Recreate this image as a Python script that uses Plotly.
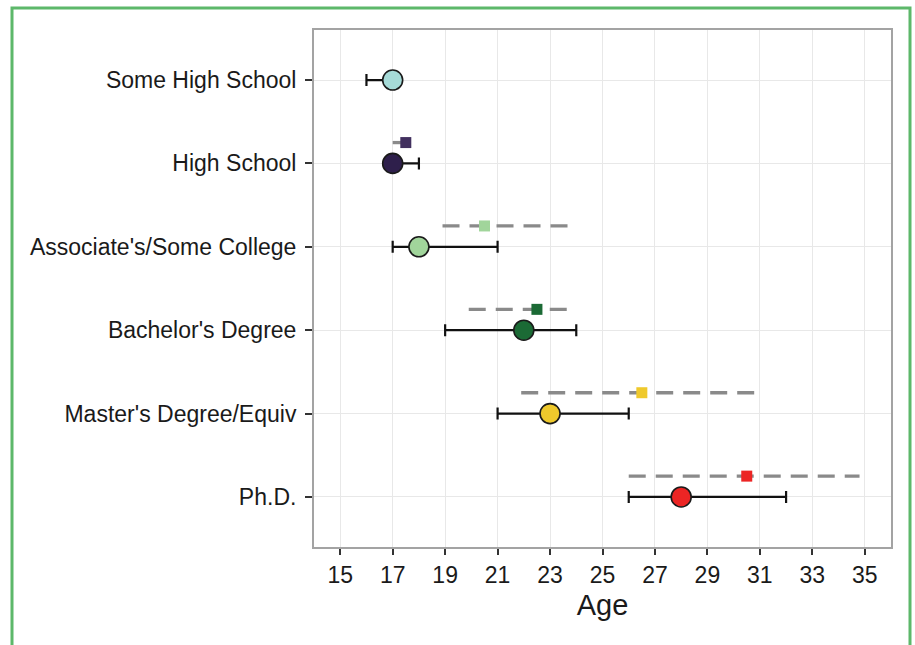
import plotly.graph_objects as go

categories = ["Some High School", "High School", "Associate's/Some College",
              "Bachelor's Degree", "Master's Degree/Equiv", "Ph.D."]
point_age = [17, 17, 18, 22, 23, 28]
ci_low = [16, 17, 17, 19, 21, 26]
ci_high = [17, 18, 21, 24, 26, 32]
alt_age = [None, 17.5, 20.5, 22.5, 26.5, 30.5]
alt_low = [None, 17.0, 18.9, 19.9, 21.9, 26.0]
alt_high = [None, 17.5, 23.7, 23.7, 30.8, 34.8]
circle_colors = ["#a6dbd8", "#2e1f4b", "#a1d59b", "#1b6a35", "#efc92c", "#ec2524"]
square_colors = ["#a6dbd8", "#42305f", "#a1d59b", "#1b6a35", "#efc92c", "#ec2524"]
x_ticks = list(range(15, 36, 2))

rows = list(range(len(categories)))
OFFSET = 0.25

fig = go.Figure()

# dashed ranges with squares
for i in rows:
    if alt_age[i] is None:
        continue
    fig.add_trace(go.Scatter(
        x=[alt_low[i], alt_high[i]], y=[i - OFFSET, i - OFFSET],
        mode="lines", line=dict(color="#8a8a8a", width=3.3, dash="17px,10px"),
        hoverinfo="skip", showlegend=False))

fig.add_trace(go.Scatter(
    x=[a for a in alt_age if a is not None],
    y=[i - OFFSET for i in rows if alt_age[i] is not None],
    mode="markers",
    marker=dict(symbol="square", size=11,
                color=[square_colors[i] for i in rows if alt_age[i] is not None],
                line=dict(width=0)),
    showlegend=False))

# points with error bars
fig.add_trace(go.Scatter(
    x=point_age, y=rows, mode="markers",
    marker=dict(symbol="circle", size=20, color=circle_colors,
                line=dict(color="#1a1a1a", width=1.6)),
    error_x=dict(type="data", symmetric=False,
                 array=[h - p for h, p in zip(ci_high, point_age)],
                 arrayminus=[p - l for p, l in zip(point_age, ci_low)],
                 color="#111111", thickness=2.2, width=6),
    showlegend=False))

FONT = "Liberation Sans, Arial, sans-serif"
L, R, T, B = 314, 891, 30, 547
W, H = 915, 645
PW, PH = R - L, B - T

fig.update_layout(
    width=W, height=H,
    margin=dict(l=L, r=W - R, t=T, b=H - B),
    paper_bgcolor="white", plot_bgcolor="white",
    font=dict(family=FONT, color="#1a1a1a"),
    xaxis=dict(range=[14, 36], tickvals=x_ticks, ticktext=[str(t) for t in x_ticks],
               showgrid=True, gridcolor="#e8e8e8", gridwidth=1,
               zeroline=False, showline=True, mirror=True,
               linecolor="#a3a3a3", linewidth=2,
               ticks="outside", ticklen=6, tickwidth=2, tickcolor="#333333",
               tickfont=dict(size=23, color="#1a1a1a"),
               title=dict(text="Age", font=dict(size=29, color="#1a1a1a"), standoff=8)),
    yaxis=dict(range=[5.6, -0.6], tickvals=rows, ticktext=categories,
               showgrid=True, gridcolor="#e8e8e8", gridwidth=1,
               zeroline=False, showline=True, mirror=True,
               linecolor="#a3a3a3", linewidth=2,
               ticks="outside", ticklen=7, tickwidth=2, tickcolor="#333333",
               ticklabelstandoff=4,
               tickfont=dict(size=23, color="#1a1a1a")),
    shapes=[dict(type="rect", xref="paper", yref="paper",
                 x0=(12 - L) / PW, x1=(910 - L) / PW,
                 y0=(B - 680) / PH, y1=(B - 8) / PH,
                 line=dict(color="#5db86a", width=3), fillcolor="rgba(0,0,0,0)",
                 layer="above")],
)

fig.write_html("out.html", config={"displayModeBar": False},
               post_script="document.body.style.margin='0';document.body.style.overflow='hidden';")
